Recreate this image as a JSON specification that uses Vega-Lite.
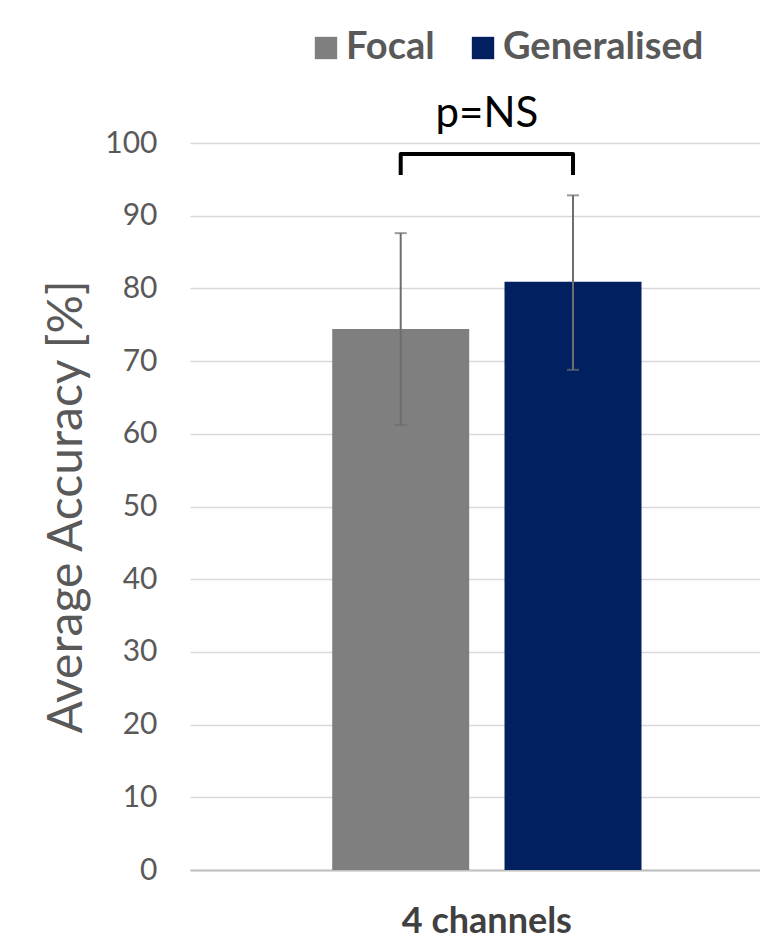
{
  "$schema": "https://vega.github.io/schema/vega-lite/v6.json",
  "autosize": {"type": "none"},
  "padding": {"left": 190, "top": 143, "right": 0, "bottom": 71},
  "width": 570,
  "height": 727,
  "background": "white",
  "config": {
    "view": {"stroke": null},
    "font": "Lato",
    "axis": {"labelFont": "Lato", "titleFont": "Lato"},
    "legend": {"labelFont": "Lato"}
  },
  "datasets": {
    "bars": [
      {"cat": "4 channels", "group": "Focal", "value": 74.4, "lo": 61.2, "hi": 87.6},
      {"cat": "4 channels", "group": "Generalised", "value": 80.9, "lo": 68.8, "hi": 92.8}
    ],
    "bracket": [
      {"cat": "4 channels", "group": "Focal", "y": 95.6, "o": 1},
      {"cat": "4 channels", "group": "Focal", "y": 98.5, "o": 2},
      {"cat": "4 channels", "group": "Generalised", "y": 98.5, "o": 3},
      {"cat": "4 channels", "group": "Generalised", "y": 95.6, "o": 4}
    ],
    "sig": [
      {"cat": "4 channels", "label": "p=NS", "y": 102.2}
    ]
  },
  "encoding": {
    "x": {
      "field": "cat", "type": "nominal",
      "scale": {"paddingInner": 0, "paddingOuter": 0.327, "align": 0.5526},
      "axis": {
        "title": null, "labelAngle": 0, "ticks": false,
        "labelFontSize": 36, "labelFontWeight": "bold", "labelColor": "#404040",
        "labelPadding": 34, "domainColor": "#bfbfbf", "domainWidth": 2
      }
    }
  },
  "layer": [
    {
      "data": {"name": "bars"},
      "mark": {"type": "bar"},
      "encoding": {
        "xOffset": {"field": "group", "type": "nominal", "scale": {"paddingInner": 0.205, "paddingOuter": 0.1025}},
        "y": {
          "field": "value", "type": "quantitative",
          "scale": {"domain": [0, 100], "nice": false},
          "axis": {
            "title": "Average Accuracy [%]", "titleFontSize": 48, "titleFontWeight": "normal",
            "titleColor": "#595959", "titlePadding": 13,
            "values": [0, 10, 20, 30, 40, 50, 60, 70, 80, 90, 100],
            "labelFontSize": 30, "labelColor": "#595959", "labelPadding": 33,
            "ticks": false, "domain": false,
            "gridColor": "#d9d9d9", "gridWidth": 1.5
          }
        },
        "color": {
          "field": "group", "type": "nominal",
          "scale": {"domain": ["Focal", "Generalised"], "range": ["#7f7f7f", "#002060"]},
          "legend": {
            "title": null, "orient": "none", "legendX": 117, "legendY": -114,
            "direction": "horizontal", "symbolType": "square", "symbolSize": 500,
            "symbolStrokeWidth": 0, "labelFontSize": 38, "labelFontWeight": "bold",
            "labelColor": "#595959", "labelOffset": 1, "columnPadding": 29,
            "padding": 0, "labelLimit": 400
          }
        }
      }
    },
    {
      "data": {"name": "bars"},
      "mark": {"type": "rule", "color": "#6e6e6e", "strokeWidth": 2},
      "encoding": {
        "xOffset": {"field": "group", "type": "nominal"},
        "y": {"field": "lo", "type": "quantitative"},
        "y2": {"field": "hi"}
      }
    },
    {
      "data": {"name": "bars"},
      "mark": {"type": "tick", "color": "#6e6e6e", "thickness": 2, "size": 12, "orient": "horizontal"},
      "encoding": {
        "xOffset": {"field": "group", "type": "nominal"},
        "y": {"field": "hi", "type": "quantitative"}
      }
    },
    {
      "data": {"name": "bars"},
      "mark": {"type": "tick", "color": "#6e6e6e", "thickness": 2, "size": 12, "orient": "horizontal"},
      "encoding": {
        "xOffset": {"field": "group", "type": "nominal"},
        "y": {"field": "lo", "type": "quantitative"}
      }
    },
    {
      "data": {"name": "bracket"},
      "mark": {"type": "line", "color": "#000000", "strokeWidth": 4, "strokeJoin": "round"},
      "encoding": {
        "xOffset": {"field": "group", "type": "nominal"},
        "y": {"field": "y", "type": "quantitative"},
        "order": {"field": "o", "type": "quantitative"}
      }
    },
    {
      "data": {"name": "sig"},
      "mark": {"type": "text", "fontSize": 42, "color": "#000000", "baseline": "alphabetic", "font": "Lato"},
      "encoding": {
        "y": {"field": "y", "type": "quantitative"},
        "text": {"field": "label"}
      }
    }
  ]
}
